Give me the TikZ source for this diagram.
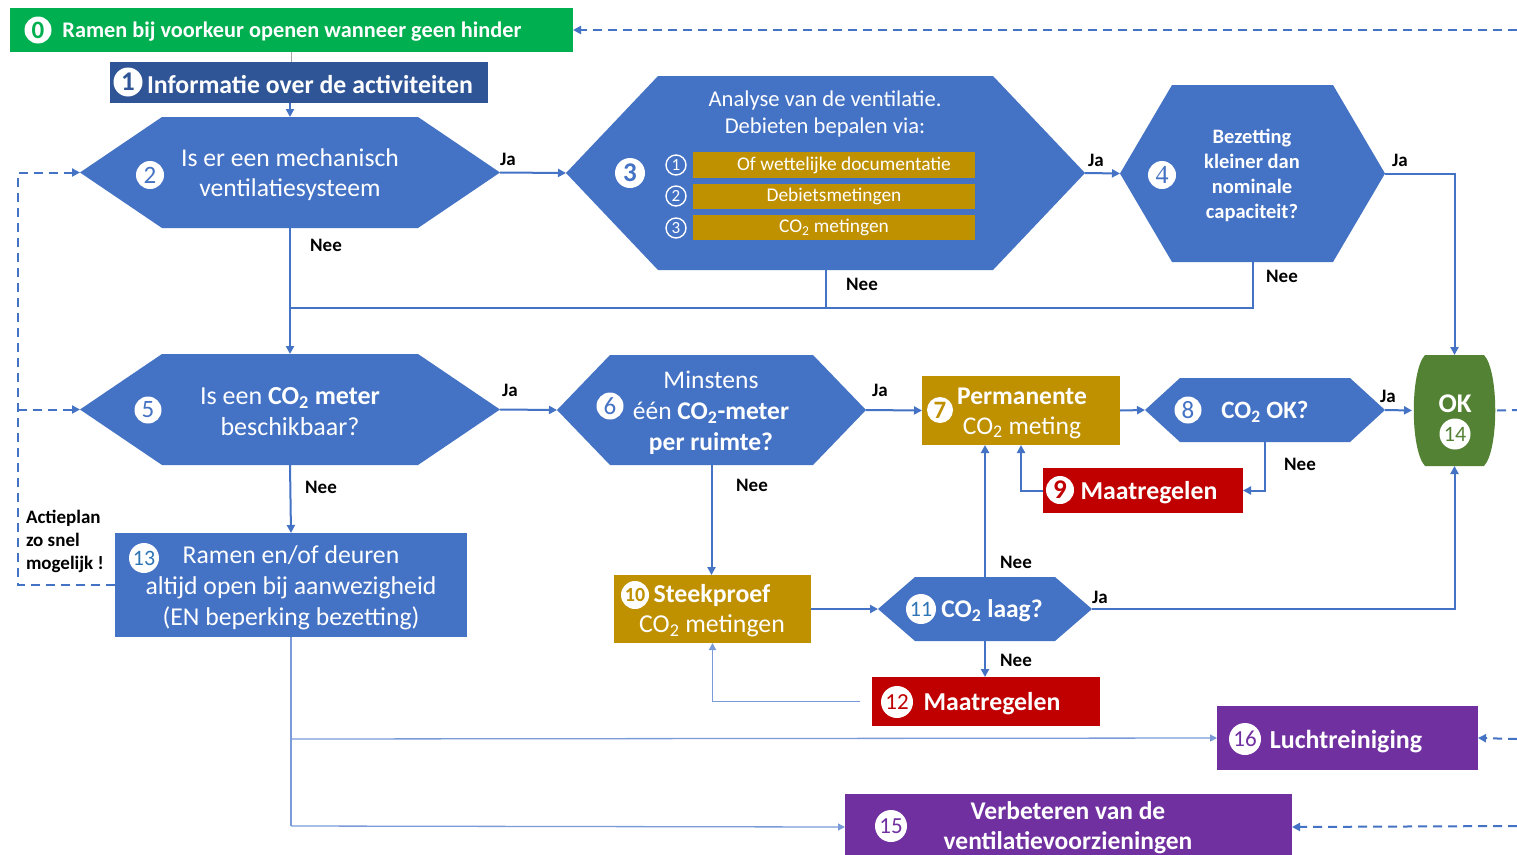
\documentclass[tikz,border=0pt]{standalone}
\usepackage{fontspec}
\setmainfont{Carlito}
\usetikzlibrary{arrows.meta}
\definecolor{cblue}{HTML}{4472C4}
\definecolor{cdblue}{HTML}{2F5597}
\definecolor{cgreen}{HTML}{00B050}
\definecolor{cgold}{HTML}{BF9000}
\definecolor{cred}{HTML}{C00000}
\definecolor{cpurple}{HTML}{7030A0}
\definecolor{cok}{HTML}{548235}
\definecolor{cline}{HTML}{4472C4}
\definecolor{clight}{HTML}{7A9BD8}
\definecolor{cnum}{HTML}{2E75B6}
\newcommand\fs[2]{\fontsize{#1}{#2}\selectfont}
\tikzset{
  base/.style={inner sep=0pt, outer sep=0pt},
  rbox/.style n args={3}{base, fill=#3, minimum width=#1pt, minimum height=#2pt},
  hexa/.style n args={3}{base, minimum width=#1pt, minimum height=#2pt,
    path picture={\fill[cblue] (path picture bounding box.west)
      -- ([xshift=#3pt]path picture bounding box.north west)
      -- ([xshift=-#3pt]path picture bounding box.north east)
      -- (path picture bounding box.east)
      -- ([xshift=-#3pt]path picture bounding box.south east)
      -- ([xshift=#3pt]path picture bounding box.south west) -- cycle;}},
  wtxt/.style={base, text=white, align=center, yshift=-2pt},
  badge/.style 2 args={circle, fill=white, text=#2, minimum size=#1pt, inner sep=0pt},
  onum/.style={circle, draw=white, line width=1.4pt, text=white, minimum size=20pt, inner sep=0pt, font=\fs{17}{17}},
  conn/.style={draw=cline, line width=2pt, -{Triangle[length=8pt,width=8pt]}},
  plain/.style={draw=cline, line width=2pt},
  thin/.style={draw=clight, line width=1.3pt, -{Triangle[length=7pt,width=7pt]}},
  dashln/.style={draw=cline, line width=2pt, dash pattern=on 9pt off 6pt, -{Triangle[length=8pt,width=8pt]}},
  lab/.style={base, text=black, font=\fs{19}{22}\bfseries},
}
\begin{document}
\begin{tikzpicture}[x=1pt,y=-1pt]
\useasboundingbox (0,0) rectangle (1517,854);
\fill[white] (0,0) rectangle (1517,854);

% ---------- shapes ----------
\node[rbox={563}{44}{cgreen}] (n0) at (291.5,30) {};
\node[rbox={378}{41}{cdblue}] (n1) at (299,82.5) {};
\node[hexa={420}{111}{82}] (n2) at (290,172.5) {};
\node[hexa={519}{194}{92}] (n3) at (825.5,173) {};
\node[hexa={265}{177}{52}] (n4) at (1252.5,173.5) {};
\node[hexa={420}{111}{82}] (n5) at (290,409.5) {};
\node[hexa={309}{110}{53}] (n6) at (711.5,410) {};
\node[rbox={198}{69}{cgold}] (n7) at (1021,410.5) {};
\node[hexa={240}{64}{35}] (n8) at (1265,410) {};
\node[base, minimum width=85pt, minimum height=111pt,
  path picture={\fill[cok] ([xshift=13pt]path picture bounding box.north west)
    -- ([xshift=-13pt]path picture bounding box.north east)
    .. controls ([xshift=2pt,yshift=-16pt]path picture bounding box.north east) and ([xshift=2pt,yshift=16pt]path picture bounding box.south east) ..
    ([xshift=-13pt]path picture bounding box.south east)
    -- ([xshift=13pt]path picture bounding box.south west)
    .. controls ([xshift=-2pt,yshift=16pt]path picture bounding box.south west) and ([xshift=-2pt,yshift=-16pt]path picture bounding box.north west) ..
    cycle;}] (ok) at (1454.5,410.5) {};
\node[rbox={200}{45}{cred}] (n9) at (1143,490.5) {};
\node[rbox={197}{68}{cgold}] (n10) at (712.5,609) {};
\node[hexa={214}{64}{37}] (n11) at (985,609) {};
\node[rbox={228}{49}{cred}] (n12) at (986,701.5) {};
\node[rbox={352}{104}{cblue}] (n13) at (291,585) {};
\node[rbox={261}{64}{cpurple}] (n16) at (1347.5,738) {};
\node[rbox={447}{66}{cpurple}] (n15) at (1068.5,827) {};

% ---------- texts ----------
\node[wtxt, font=\fs{22.3}{26}\bfseries] (t0) at (292,30) {Ramen bij voorkeur openen wanneer geen hinder};
\node[wtxt, font=\fs{25.8}{30}\bfseries] (t1) at (310,83) {Informatie over de activiteiten};
\node[wtxt, font=\fs{25.6}{30}] (t2) at (290,173) {Is er een mechanisch\\ventilatiesysteem};
\node[wtxt, font=\fs{22.6}{27}] (t3) at (825,111.5) {Analyse van de ventilatie.\\Debieten bepalen via:};
\node[rbox={282}{26}{cgold}, text=white, font=\fs{19.4}{22}] (bar1) at (834,165) {\hspace*{20pt}Of wettelijke documentatie};
\node[rbox={282}{25}{cgold}, text=white, font=\fs{19.4}{22}] (bar2) at (834,196.5) {Debietsmetingen};
\node[rbox={282}{25}{cgold}, text=white, font=\fs{19.4}{22}] (bar3) at (834,227.5) {CO\textsubscript{2} metingen};
\node[wtxt, font=\fs{20.5}{25}\bfseries] (t4) at (1252,173.5) {Bezetting\\kleiner dan\\nominale\\capaciteit?};
\node[wtxt, font=\fs{26}{31}] (t5) at (290,410) {Is een \textbf{CO\textsubscript{2} meter}\\beschikbaar?};
\node[wtxt, font=\fs{25.5}{31}] (t6) at (711,411) {Minstens\\één \textbf{CO\textsubscript{2}-meter}\\\textbf{per ruimte?}};
\node[wtxt, font=\fs{25.5}{30}] (t7) at (1022,411) {\textbf{Permanente}\\CO\textsubscript{2} meting};
\node[wtxt, font=\fs{25}{29}\bfseries] (t8) at (1265,410) {CO\textsubscript{2} OK?};
\node[wtxt, font=\fs{25.8}{30}\bfseries] (t9) at (1149,491) {Maatregelen};
\node[wtxt, font=\fs{25.8}{30}] (t10) at (712,609) {\textbf{Steekproef}\\CO\textsubscript{2} metingen};
\node[wtxt, font=\fs{25.5}{30}\bfseries] (t11) at (992,609) {CO\textsubscript{2} laag?};
\node[wtxt, font=\fs{25.8}{30}\bfseries] (t12) at (992,702) {Maatregelen};
\node[wtxt, font=\fs{25.7}{31}] (t13) at (291,586) {Ramen en/of deuren\\altijd open bij aanwezigheid\\(EN beperking bezetting)};
\node[wtxt, font=\fs{27}{30}\bfseries] (tok) at (1455,402) {OK};
\node[wtxt, font=\fs{26}{30}\bfseries] (t16) at (1346,740) {Luchtreiniging};
\node[wtxt, font=\fs{25.5}{30}\bfseries] (t15) at (1068,826) {Verbeteren van de\\ventilatievoorzieningen};

% ---------- badges ----------
\node[badge={27}{cgreen}, font=\fs{25}{25}\bfseries] (b0) at (38,30) {0};
\node[badge={29}{cdblue}, font=\fs{27}{27}\bfseries] (b1) at (128,82) {1};
\node[badge={28}{cblue}, font=\fs{25}{25}] (b2) at (150,175) {2};
\node[badge={30}{cblue}, font=\fs{27}{27}\bfseries] (b3) at (630,173) {3};
\node[onum] (c1) at (676,165) {1};
\node[onum] (c2) at (676,196) {2};
\node[onum] (c3) at (676,228) {3};
\node[badge={28}{cblue}, font=\fs{26}{26}] (b4) at (1162,175) {\fontspec{Liberation Serif}4};
\node[badge={27}{cblue}, font=\fs{25}{25}] (b5) at (148,410) {5};
\node[badge={27}{cblue}, font=\fs{25}{25}] (b6) at (610,406) {6};
\node[badge={26}{cgold}, font=\fs{25}{25}\bfseries] (b7) at (940,410) {7};
\node[badge={27}{cblue}, font=\fs{25}{25}] (b8) at (1188,410) {8};
\node[badge={28}{cred}, font=\fs{27}{27}\bfseries] (b9) at (1060,490) {9};
\node[badge={28}{cgold}, font=\fs{20}{20}\bfseries] (b10) at (635,595) {10};
\node[badge={30}{cnum}, font=\fs{22}{22}] (b11) at (921,609) {11};
\node[badge={32}{cred}, font=\fs{23}{23}] (b12) at (897,702) {12};
\node[badge={30}{cnum}, font=\fs{22}{22}] (b13) at (144,558) {13};
\node[badge={31}{cok}, font=\fs{22}{22}] (b14) at (1455,434) {14};
\node[badge={32}{cpurple}, font=\fs{23}{23}] (b16) at (1245,739) {16};
\node[badge={32}{cpurple}, font=\fs{23}{23}] (b15) at (891,826) {15};

% ---------- side label ----------
\node[base, text=black, align=left, font=\fs{19}{23}\bfseries, anchor=north west] (act) at (26,510) {Actieplan\\zo snel\\mogelijk !};

% ---------- free-end coordinates ----------
\coordinate (e0) at (1517,30);
\coordinate (eok) at (1517,410);
\coordinate (e16) at (1517,739);
\coordinate (e15) at (1517,826);
\coordinate (j1) at (290,308);
\coordinate (dl) at (18,585);
\coordinate (b13a) at (291,739);
\coordinate (b13b) at (291,826);

% ---------- connectors ----------
\draw[draw=gray!70, line width=1.5pt] (n0.south) -- (n0.south |- n1.north);
\draw[conn] (n2.north |- n1.south) -- (n2.north);
\draw[conn] (n2.east) -- (n3.west);
\node[lab] (ja2) at (508,159) {Ja};
\draw[conn] (n3.east) -- (n4.west);
\node[lab] (ja3) at (1096,160) {Ja};
\draw[conn] (n4.east) -| (ok.north);
\node[lab] (ja4) at (1400,160) {Ja};
\draw[conn] (n2.south) -- (n5.north);
\node[lab] (nee2) at (326,245) {Nee};
\draw[plain] (n4.south) |- (j1);
\draw[plain] (n3.south) -- (n3.south |- j1);
\node[lab] (nee3) at (862,284) {Nee};
\node[lab] (nee4) at (1282,276) {Nee};
\draw[conn] (n5.east) -- (n6.west);
\node[lab] (ja5) at (510,390) {Ja};
\draw[conn] (n6.east) -- (n7.west);
\node[lab] (ja6) at (880,390) {Ja};
\draw[conn] (n7.east) -- (n8.west);
\draw[conn] (n8.east) -- (ok.west);
\node[lab] (ja8) at (1388,396) {Ja};
\draw[conn] (n8.south) |- (n9.east);
\node[lab] (nee8) at (1300,464) {Nee};
\draw[conn] (n9.west) -| (n7.south);
\draw[conn] (n6.south) -- (n6.south |- n10.north);
\node[lab] (nee6) at (752,485) {Nee};
\draw[conn] (n10.east) -- (n11.west);
\draw[conn] (n11.north) -- (n11.north |- n7.south);
\node[lab] (nee11a) at (1016,562) {Nee};
\draw[conn] (n11.south) -- (n11.south |- n12.north);
\node[lab] (nee11b) at (1016,660) {Nee};
\draw[conn] (n11.east) -| (ok.south);
\node[lab] (ja11) at (1100,597) {Ja};
\draw[thin] ([xshift=-12pt]n12.west) -| (n10.south);
\draw[conn] (n5.south) -- (n13.north);
\node[lab] (nee5) at (321,487) {Nee};
\draw[dashln] (n13.west) -- (dl) |- (n2.west);
\draw[dashln] (dl |- n5.west) -- (n5.west);
\draw[draw=clight, line width=1.3pt] (n13.south) -- (b13b);
\draw[thin] (b13a) -- (n16.west);
\draw[thin] (b13b) -- (n15.west);
\draw[dashln] (e0) -- (n0.east);
\draw[dashln, -] (ok.east) -- (eok);
\draw[dashln] (e16) -- (n16.east);
\draw[dashln] (e15) -- (n15.east);
\end{tikzpicture}
\end{document}
